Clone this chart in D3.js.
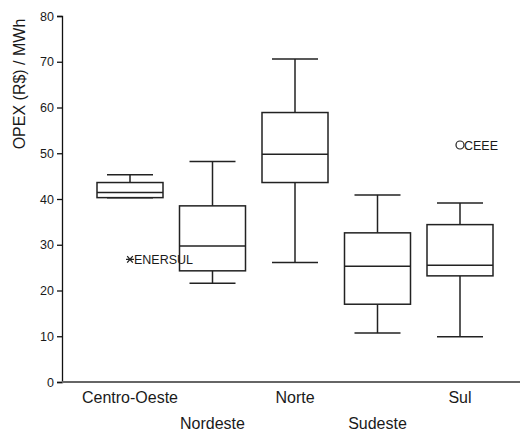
<!DOCTYPE html>
<html>
<head>
<meta charset="utf-8">
<script src="https://cdn.jsdelivr.net/npm/d3@7"></script>
<style>
  body { margin: 0; background: #fff; }
  text { font-family: "Liberation Sans", Arial, sans-serif; fill: #1a1a1a; }
</style>
</head>
<body>
<div id="chart"></div>
<script>
// Dados
const regions = ["Centro-Oeste", "Nordeste", "Norte", "Sudeste", "Sul"];
const whiskerLow = [40.3, 21.6, 26.1, 10.7, 9.9];
const q1 = [40.3, 24.3, 43.6, 17.0, 23.2];
const median = [41.4, 29.7, 49.8, 25.3, 25.5];
const q3 = [43.6, 38.5, 58.9, 32.6, 34.4];
const whiskerHigh = [45.3, 48.2, 70.6, 40.9, 39.1];
const outliers = [
  { region: "Centro-Oeste", value: 26.8, name: "ENERSUL", shape: "star" },
  { region: "Sul", value: 51.8, name: "CEEE", shape: "circle" }
];
const yTicks = [0, 10, 20, 30, 40, 50, 60, 70, 80];

const width = 520, height = 432;
const svg = d3.select("#chart").append("svg")
  .attr("width", width)
  .attr("height", height);

const x = d3.scalePoint().domain(regions).range([130, 460]);
const y = d3.scaleLinear().domain([0, 80]).range([382, 16]);
const boxW = 66, capW = 46;

// eixo Y
const yAxis = svg.append("g")
  .attr("transform", "translate(62,0)")
  .call(d3.axisLeft(y).tickValues(yTicks).tickSize(5).tickPadding(3));
yAxis.select(".domain").attr("stroke", "#111").attr("stroke-width", 1.3);
yAxis.selectAll(".tick line").attr("stroke", "#111").attr("stroke-width", 1.3);
yAxis.selectAll(".tick text")
  .attr("font-size", 12.5)
  .attr("font-family", "Liberation Sans, Arial, sans-serif")
  .attr("fill", "#1a1a1a");

// eixo X (linha base)
svg.append("line")
  .attr("x1", 62).attr("x2", width)
  .attr("y1", y(0)).attr("y2", y(0))
  .attr("stroke", "#666").attr("stroke-width", 2);

// rótulos das categorias, alternados
svg.append("g")
  .selectAll("text")
  .data(regions)
  .join("text")
  .attr("x", (d) => x(d))
  .attr("y", (d, i) => (i % 2 === 0 ? 403 : 429))
  .attr("text-anchor", "middle")
  .attr("font-size", 16)
  .text((d) => d);

// título do eixo Y
svg.append("text")
  .attr("transform", "translate(25,84) rotate(-90)")
  .attr("text-anchor", "middle")
  .attr("font-size", 16)
  .text("OPEX (R$) / MWh");

// boxplots
const boxes = svg.append("g")
  .attr("stroke", "#222")
  .attr("stroke-width", 1.5)
  .attr("fill", "none");

regions.forEach((r, i) => {
  const cx = x(r);
  const g = boxes.append("g");
  // bigodes
  g.append("line")
    .attr("x1", cx).attr("x2", cx)
    .attr("y1", y(q3[i])).attr("y2", y(whiskerHigh[i]));
  g.append("line")
    .attr("x1", cx).attr("x2", cx)
    .attr("y1", y(q1[i])).attr("y2", y(whiskerLow[i]));
  g.append("line")
    .attr("x1", cx - capW / 2).attr("x2", cx + capW / 2)
    .attr("y1", y(whiskerHigh[i])).attr("y2", y(whiskerHigh[i]));
  g.append("line")
    .attr("x1", cx - capW / 2).attr("x2", cx + capW / 2)
    .attr("y1", y(whiskerLow[i])).attr("y2", y(whiskerLow[i]));
  // caixa
  g.append("rect")
    .attr("x", cx - boxW / 2)
    .attr("width", boxW)
    .attr("y", y(q3[i]))
    .attr("height", y(q1[i]) - y(q3[i]))
    .attr("fill", "#fff");
  // mediana
  g.append("line")
    .attr("x1", cx - boxW / 2).attr("x2", cx + boxW / 2)
    .attr("y1", y(median[i])).attr("y2", y(median[i]));
});

// outliers
const out = svg.append("g");
outliers.forEach((o) => {
  const cx = x(o.region), cy = y(o.value);
  if (o.shape === "circle") {
    out.append("circle")
      .attr("cx", cx).attr("cy", cy).attr("r", 4)
      .attr("fill", "none").attr("stroke", "#222").attr("stroke-width", 1.2);
  } else {
    const s = 4;
    out.append("path")
      .attr("d", `M${cx - s},${cy}H${cx + s}M${cx - s * 0.7},${cy - s * 0.8}L${cx + s * 0.7},${cy + s * 0.8}M${cx - s * 0.7},${cy + s * 0.8}L${cx + s * 0.7},${cy - s * 0.8}`)
      .attr("stroke", "#222").attr("stroke-width", 1.3).attr("fill", "none");
  }
  out.append("text")
    .attr("x", cx + 4)
    .attr("y", cy)
    .attr("dy", "0.36em")
    .attr("font-size", 12.5)
    .text(o.name);
});
</script>
</body>
</html>
